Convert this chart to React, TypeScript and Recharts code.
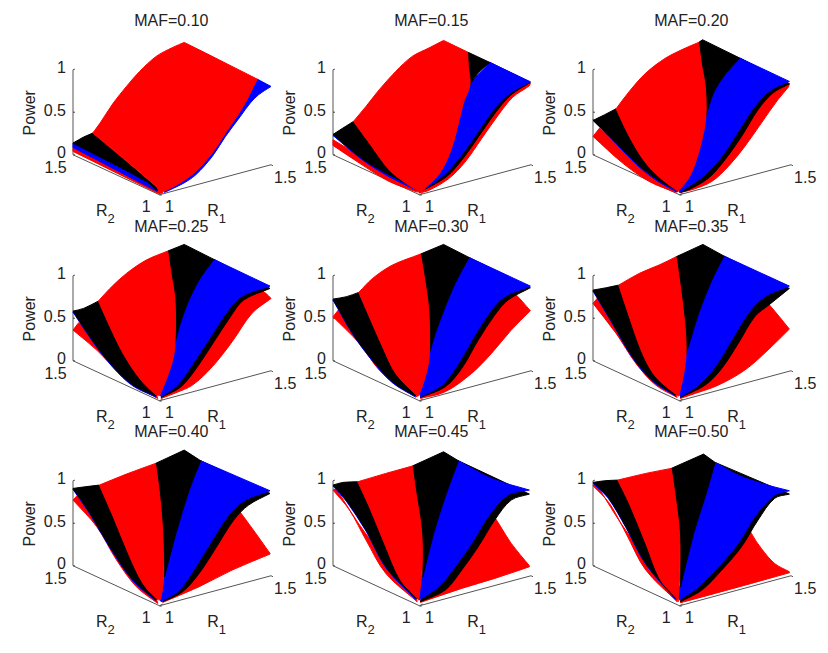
import React from 'react'
import { ScatterChart, Scatter, XAxis, YAxis, ReferenceDot } from 'recharts'

type Pt = [number, number]

// projected surface outlines: [across, height]
// across: 600 = far right corner, height: 255 = Power 1
const under10L: Pt[] = [[0, 22], [262, -105], [272, -113], [260, -117], [0, 10]]
const edge10: Pt[] = [[0, 35], [222, -80], [255, -103], [255, -110], [222, -93], [0, 22]]
const band10: Pt[] = [[0, 35], [32, 53], [60, 65], [262, -105], [252, -105], [222, -80]]
const blue10: Pt[] = [[558, 227], [600, 205], [562, 180], [537, 155], [507, 115], [462, 55], [422, -5], [372, -60], [332, -87], [277, -113], [282, -100], [422, 50]]
const main10: Pt[] = [[60, 65], [82, 95], [122, 155], [162, 205], [202, 250], [252, 295], [302, 322], [337, 337], [402, 305], [482, 265], [558, 227], [527, 165], [502, 123], [462, 65], [422, 5], [372, -50], [332, -80], [282, -107], [262, -113], [252, -95]]

const under15R: Pt[] = [[260, -115], [290, -107], [350, -72], [400, -22], [450, 48], [500, 118], [545, 173], [595, 207], [598, 215], [475, 277]]
const thin15: Pt[] = [[262, -112], [280, -103], [345, -65], [395, -10], [445, 60], [495, 130], [540, 180], [598, 217], [475, 277]]
const blue15: Pt[] = [[265, -110], [285, -98], [340, -57], [390, 0], [440, 70], [490, 140], [540, 187], [598, 219], [475, 277], [415, 210], [395, 155], [370, 55], [350, -5], [320, -60], [250, -50]]
const wedge15: Pt[] = [[408, 308], [475, 277], [440, 245], [415, 210], [410, 265]]
const under15L: Pt[] = [[0, 45], [0, 28], [80, -25], [170, -80], [255, -112], [265, -105], [170, -55]]
const edge15: Pt[] = [[0, 58], [90, -16], [170, -66], [252, -106], [170, -50], [90, 5]]
const band15: Pt[] = [[0, 61], [30, 80], [62, 100], [110, 35], [170, -45], [220, -85], [258, -104], [252, -101], [170, -60], [90, -13]]
const main15: Pt[] = [[62, 100], [100, 145], [140, 195], [190, 250], [240, 295], [290, 320], [335, 343], [408, 308], [410, 265], [415, 210], [395, 155], [370, 55], [350, -5], [320, -60], [280, -100], [265, -113], [255, -107], [220, -85], [170, -45], [110, 35]]

const under20R: Pt[] = [[265, -113], [300, -105], [360, -80], [410, -35], [460, 25], [510, 95], [560, 165], [592, 203], [595, 213], [445, 290]]
const thin20: Pt[] = [[265, -113], [290, -105], [350, -70], [400, -15], [450, 55], [500, 135], [545, 185], [595, 213], [445, 290]]
const blue20: Pt[] = [[262, -113], [290, -95], [340, -60], [390, -5], [440, 70], [490, 145], [540, 195], [595, 220], [445, 290], [400, 240], [365, 185], [342, 115], [330, 45], [310, -25], [290, -70], [245, -50]]
const wedge20: Pt[] = [[320, 337], [332, 345], [445, 290], [400, 240], [365, 185], [342, 115], [340, 205], [328, 275]]
const under20L: Pt[] = [[0, 55], [20, 80], [170, -55], [255, -110], [250, -113], [170, -80], [90, -25]]
const edge20: Pt[] = [[0, 105], [70, 33], [140, -37], [200, -82], [255, -112], [260, -105], [70, 45]]
const band20: Pt[] = [[0, 103], [35, 120], [70, 138], [110, 55], [160, -25], [210, -75], [258, -105], [255, -107], [200, -78], [140, -33], [70, 35]]
const main20: Pt[] = [[70, 138], [110, 190], [160, 245], [220, 290], [280, 320], [320, 337], [328, 275], [340, 205], [342, 115], [330, 45], [310, -25], [290, -70], [258, -110], [210, -75], [160, -25], [110, 55]]

const under25R: Pt[] = [[267, -113], [312, -96], [362, -73], [422, -18], [482, 57], [542, 142], [600, 187], [582, 204], [427, 304]]
const thin25: Pt[] = [[267, -110], [327, -78], [377, -18], [427, 57], [477, 132], [517, 182], [597, 217], [427, 304]]
const blue25: Pt[] = [[267, -108], [317, -73], [367, -3], [417, 72], [467, 147], [512, 194], [597, 224], [427, 304], [382, 242], [347, 172], [322, 102], [309, 52], [302, 2], [282, -58], [245, -45]]
const wedge25: Pt[] = [[287, 329], [337, 349], [427, 304], [382, 242], [347, 172], [322, 102], [309, 52], [309, 182], [297, 262]]
const under25L: Pt[] = [[0, 92], [17, 114], [82, 52], [252, -103], [257, -113], [202, -83], [132, -28], [72, 32]]
const edge25: Pt[] = [[0, 146], [62, 54], [122, -21], [182, -76], [252, -109], [182, -60], [62, 70]]
const band25: Pt[] = [[0, 149], [32, 157], [77, 179], [112, 102], [152, 22], [202, -53], [252, -103], [252, -106], [182, -73], [122, -18], [62, 57]]
const main25: Pt[] = [[77, 179], [112, 217], [162, 262], [222, 302], [287, 329], [297, 262], [309, 182], [309, 52], [302, 2], [282, -58], [262, -105], [252, -103], [202, -53], [152, 22], [112, 102]]

const under30R: Pt[] = [[265, -113], [340, -93], [420, -38], [480, 22], [540, 92], [598, 150], [550, 202], [412, 310]]
const thin30: Pt[] = [[265, -110], [340, -78], [390, -23], [440, 62], [490, 137], [530, 182], [598, 219], [412, 310]]
const blue30: Pt[] = [[265, -108], [330, -73], [380, -8], [430, 77], [480, 152], [520, 192], [598, 224], [412, 310], [370, 232], [340, 162], [310, 82], [292, 22], [285, -28], [270, -78], [245, -45]]
const wedge30: Pt[] = [[265, 320], [335, 349], [412, 310], [370, 232], [340, 162], [310, 82], [292, 22], [290, 152], [275, 262]]
const under30L: Pt[] = [[0, 132], [20, 157], [100, 70], [250, -100], [255, -108], [200, -78], [140, -28], [80, 52]]
const edge30: Pt[] = [[0, 182], [60, 79], [120, -1], [180, -66], [250, -109], [180, -50], [60, 95]]
const band30: Pt[] = [[0, 185], [40, 192], [78, 205], [110, 132], [150, 42], [190, -38], [250, -101], [250, -106], [180, -63], [120, 2], [60, 82]]
const main30: Pt[] = [[78, 205], [120, 247], [180, 287], [265, 320], [275, 262], [290, 152], [292, 22], [285, -28], [270, -78], [258, -106], [250, -101], [190, -38], [150, 42], [110, 132]]

const under35R: Pt[] = [[265, -113], [310, -98], [380, -73], [460, -28], [530, 32], [595, 95], [535, 167], [397, 314]]
const thin35: Pt[] = [[265, -110], [340, -73], [390, -23], [440, 52], [490, 132], [535, 169], [595, 217], [397, 314]]
const blue35: Pt[] = [[265, -108], [320, -73], [370, -18], [420, 62], [470, 142], [520, 192], [595, 224], [397, 314], [360, 242], [320, 142], [295, 62], [282, 22], [275, -38], [240, -40]]
const wedge35: Pt[] = [[252, 312], [333, 349], [397, 314], [360, 242], [320, 142], [295, 62], [282, 22], [278, 112], [262, 242]]
const under35L: Pt[] = [[0, 172], [15, 190], [90, 80], [250, -95], [255, -110], [190, -73], [130, -8], [70, 82]]
const edge35: Pt[] = [[0, 209], [60, 109], [120, 9], [180, -61], [250, -106], [180, -45], [60, 125]]
const band35: Pt[] = [[0, 212], [40, 219], [78, 227], [110, 132], [150, 22], [190, -48], [250, -100], [250, -103], [180, -58], [120, 12], [60, 112]]
const main35: Pt[] = [[78, 227], [140, 262], [200, 287], [252, 312], [262, 242], [278, 112], [282, 27], [275, -38], [260, -106], [250, -100], [190, -48], [150, 22], [110, 132]]

const under40R: Pt[] = [[272, -110], [382, -63], [482, -13], [597, 35], [597, 37], [517, 147], [387, 315]]
const thin40: Pt[] = [[272, -108], [332, -78], [382, -23], [432, 52], [487, 137], [532, 182], [597, 217], [387, 315]]
const blue40: Pt[] = [[267, -108], [322, -73], [372, -3], [422, 77], [472, 152], [522, 197], [597, 225], [387, 315], [352, 227], [312, 97], [277, -33], [267, -93], [240, -40]]
const wedge40: Pt[] = [[250, 307], [337, 347], [387, 315], [352, 227], [312, 97], [277, -33], [272, 97], [262, 217]]
const under40L: Pt[] = [[0, 197], [14, 212], [100, 100], [250, -95], [257, -113], [192, -63], [132, 17], [72, 117]]
const edge40: Pt[] = [[0, 229], [52, 154], [112, 54], [182, -46], [252, -106], [182, -30], [52, 170]]
const band40: Pt[] = [[0, 232], [37, 237], [80, 242], [122, 147], [172, 27], [212, -53], [254, -100], [252, -103], [182, -43], [112, 57], [52, 157]]
const main40: Pt[] = [[80, 242], [162, 275], [250, 307], [262, 217], [272, 97], [274, -43], [267, -93], [264, -103], [254, -100], [212, -53], [172, 27], [122, 147]]

const under45R: Pt[] = [[265, -110], [390, -68], [490, -38], [595, -3], [595, 0], [540, 67], [505, 122], [380, 315]]
const thin45: Pt[] = [[265, -108], [340, -73], [390, -13], [440, 57], [490, 137], [540, 197], [595, 215], [380, 315]]
const blue45: Pt[] = [[260, -103], [320, -63], [370, -3], [420, 67], [470, 147], [530, 212], [595, 227], [480, 262], [380, 315], [340, 207], [305, 97], [272, -33], [240, -40]]
const wedge45: Pt[] = [[240, 299], [335, 342], [380, 315], [340, 207], [305, 97], [272, -33], [268, 107], [250, 227]]
const under45L: Pt[] = [[0, 227], [10, 230], [100, 95], [250, -90], [255, -108], [160, -23], [100, 77], [50, 167]]
const edge45: Pt[] = [[0, 239], [40, 194], [100, 104], [160, -6], [250, -101], [160, 10], [40, 210]]
const band45: Pt[] = [[0, 242], [30, 250], [75, 252], [110, 177], [160, 57], [205, -43], [255, -98], [250, -98], [160, -3], [100, 107], [40, 197]]
const main45: Pt[] = [[75, 252], [160, 277], [240, 299], [250, 227], [268, 107], [270, -3], [260, -103], [255, -98], [205, -43], [160, 57], [110, 177]]

const under50R: Pt[] = [[265, -111], [370, -83], [480, -53], [595, -21], [595, -18], [550, 7], [510, 52], [480, 97], [370, 310]]
const thin50: Pt[] = [[265, -108], [330, -73], [390, -13], [450, 57], [500, 137], [550, 202], [595, 215], [370, 310]]
const blue50: Pt[] = [[262, -103], [320, -63], [380, -3], [440, 67], [490, 147], [550, 212], [595, 225], [510, 247], [440, 272], [370, 310], [340, 207], [305, 97], [265, -63], [240, -45]]
const wedge50: Pt[] = [[237, 292], [335, 335], [370, 310], [340, 207], [305, 97], [265, -63], [262, 97], [248, 217]]
const under50L: Pt[] = [[0, 240], [10, 245], [100, 105], [250, -90], [255, -108], [160, -13], [100, 97], [50, 187]]
const edge50: Pt[] = [[0, 247], [45, 204], [100, 114], [160, 4], [250, -101], [160, 20], [45, 220]]
const band50: Pt[] = [[0, 250], [35, 255], [75, 257], [110, 187], [160, 67], [205, -43], [255, -100], [250, -98], [160, 7], [100, 117], [45, 207]]
const main50: Pt[] = [[75, 257], [160, 277], [237, 292], [248, 217], [262, 97], [262, -43], [258, -108], [255, -100], [205, -43], [160, 67], [110, 187]]

const axisWall: Pt[] = [[0, 0], [0, 127.5], [5, 127.5], [0, 127.5], [0, 255], [6, 257]]
const axisLeftFloor: Pt[] = [[6, 0], [0, 0], [262, -120], [272, -115]]
const axisRightFloor: Pt[] = [[268, -122], [262, -120], [600, -30], [606, -33]]

const POWER_TICKS = [0, 0.5, 1]
const TITLES = ['MAF=0.10', 'MAF=0.15', 'MAF=0.20', 'MAF=0.25', 'MAF=0.30', 'MAF=0.35', 'MAF=0.40', 'MAF=0.45', 'MAF=0.50']

const RED = '#ff0000'
const BLUE = '#0000ff'
const BLACK = '#000000'

// back to front, later layers hide the closing edges of earlier ones
const LAYERS: [Pt[], string][][] = [
  [[blue10, BLUE], [under10L, RED], [edge10, BLUE], [band10, BLACK], [main10, RED]],
  [[under15R, RED], [thin15, BLACK], [blue15, BLUE], [wedge15, BLACK], [under15L, RED], [edge15, BLUE], [band15, BLACK], [main15, RED]],
  [[under20R, RED], [thin20, BLACK], [blue20, BLUE], [wedge20, BLACK], [under20L, RED], [edge20, BLUE], [band20, BLACK], [main20, RED]],
  [[under25R, RED], [thin25, BLACK], [blue25, BLUE], [wedge25, BLACK], [under25L, RED], [edge25, BLUE], [band25, BLACK], [main25, RED]],
  [[under30R, RED], [thin30, BLACK], [blue30, BLUE], [wedge30, BLACK], [under30L, RED], [edge30, BLUE], [band30, BLACK], [main30, RED]],
  [[under35R, RED], [thin35, BLACK], [blue35, BLUE], [wedge35, BLACK], [under35L, RED], [edge35, BLUE], [band35, BLACK], [main35, RED]],
  [[under40R, RED], [thin40, BLACK], [blue40, BLUE], [wedge40, BLACK], [under40L, RED], [edge40, BLUE], [band40, BLACK], [main40, RED]],
  [[under45R, RED], [thin45, BLACK], [blue45, BLUE], [wedge45, BLACK], [under45L, RED], [edge45, BLUE], [band45, BLACK], [main45, RED]],
  [[under50R, RED], [thin50, BLACK], [blue50, BLUE], [wedge50, BLACK], [under50L, RED], [edge50, BLUE], [band50, BLACK], [main50, RED]],
]

const WALL_X = [72.7, 333.3, 593.3]
const FLOOR_Y = [155, 360.7, 565.7]
const Y_MIN = -0.85
const Y_MAX = 1.75
const PX_PER_POWER = 85
const FONT = '"Liberation Sans", Arial, sans-serif'
const INK = '#222222'

const project = (pts: Pt[]) => pts.map(([x, h]) => ({ x: x / 600, y: h / 255 }))

// closed outline, rounded through gentle vertices, sharp where the outline really turns
const smoothOutline = (ctx: any) => {
  let pts: number[][] = []
  return {
    areaStart() {},
    areaEnd() {},
    lineStart() {
      pts = []
    },
    point(x: number, y: number) {
      pts.push([+x, +y])
    },
    lineEnd() {
      const n = pts.length
      const unit = (a: number[], b: number[]) => {
        const l = Math.hypot(b[0] - a[0], b[1] - a[1]) || 1
        return [(b[0] - a[0]) / l, (b[1] - a[1]) / l]
      }
      const isSharp = (i: number) => {
        const a = unit(pts[(i + n - 1) % n], pts[i])
        const b = unit(pts[i], pts[(i + 1) % n])
        return a[0] * b[0] + a[1] * b[1] < Math.cos((38 * Math.PI) / 180)
      }
      ctx.moveTo(pts[0][0], pts[0][1])
      for (let i = 0; i < n; i++) {
        const j = (i + 1) % n
        const seg = unit(pts[i], pts[j])
        const len = Math.hypot(pts[j][0] - pts[i][0], pts[j][1] - pts[i][1]) / 3
        const d0 = isSharp(i) ? seg : unit(pts[(i + n - 1) % n], pts[j])
        const d1 = isSharp(j) ? seg : unit(pts[i], pts[(j + 1) % n])
        ctx.bezierCurveTo(
          pts[i][0] + d0[0] * len,
          pts[i][1] + d0[1] * len,
          pts[j][0] - d1[0] * len,
          pts[j][1] - d1[1] * len,
          pts[j][0],
          pts[j][1],
        )
      }
      ctx.closePath()
    },
  }
}

function Tag({ x, h, text, sub, angle }: { x: number; h: number; text: string; sub?: string; angle?: number }) {
  return (
    <ReferenceDot
      x={x / 600}
      y={h / 255}
      r={0}
      ifOverflow="visible"
      shape={(p: any) => (
        <text
          x={p.cx}
          y={p.cy}
          fontFamily={FONT}
          fontSize={16}
          fill={INK}
          textAnchor="middle"
          dominantBaseline="central"
          transform={angle ? `rotate(${angle} ${p.cx} ${p.cy})` : undefined}
        >
          {text}
          {sub && <tspan dy={8} fontSize={13}>{sub}</tspan>}
        </text>
      )}
    />
  )
}

function Panel({ index }: { index: number }) {
  const col = index % 3
  const row = Math.floor(index / 3)
  const left = WALL_X[col] - 60
  const top = FLOOR_Y[row] - Y_MAX * PX_PER_POWER
  return (
    <div style={{ position: 'absolute', left, top }}>
      <ScatterChart
        width={300}
        height={(Y_MAX - Y_MIN) * PX_PER_POWER}
        margin={{ top: 0, right: 40, bottom: 0, left: 0 }}
      >
        <XAxis type="number" dataKey="x" domain={[0, 1]} hide />
        <YAxis
          type="number"
          dataKey="y"
          domain={[Y_MIN, Y_MAX]}
          ticks={POWER_TICKS}
          interval={0}
          width={60}
          axisLine={false}
          tickLine={false}
          tickMargin={7}
          tickSize={0}
          tick={{ fill: INK, fontSize: 16, fontFamily: FONT, dy: -2 }}
        />
        {[axisWall, axisLeftFloor, axisRightFloor].map((a, i) => (
          <Scatter
            key={`axis-${i}`}
            data={project(a)}
            isAnimationActive={false}
            shape={() => <g />}
            line={{ stroke: '#555555', strokeWidth: 1, fill: 'none' }}
          />
        ))}
        {LAYERS[index].map(([pts, color], i) => (
          <Scatter
            key={i}
            data={project(pts)}
            isAnimationActive={false}
            shape={() => <g />}
            lineJointType={smoothOutline as any}
            line={{ stroke: color, strokeWidth: 1, fill: color }}
          />
        ))}
        <Tag x={298} h={402} text={TITLES[index]} />
        <Tag x={-133} h={126} text="Power" angle={-90} />
        <Tag x={-53} h={-38} text="1.5" />
        <Tag x={222} h={-155} text="1" />
        <Tag x={292} h={-155} text="1" />
        <Tag x={643} h={-68} text="1.5" />
        <Tag x={98} h={-166} text="R" sub="2" />
        <Tag x={435} h={-166} text="R" sub="1" />
      </ScatterChart>
    </div>
  )
}

export default function App() {
  return (
    <div style={{ position: 'absolute', left: 0, top: 0, width: 828, height: 653, background: '#fff', overflow: 'hidden' }}>
      {TITLES.map((t, i) => (
        <Panel key={t} index={i} />
      ))}
    </div>
  )
}
